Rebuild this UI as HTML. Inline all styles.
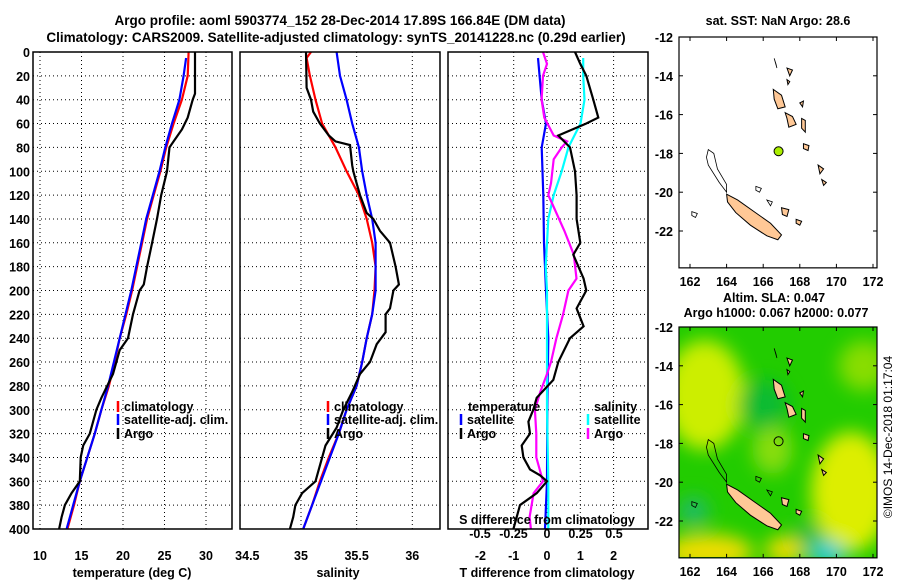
<!DOCTYPE html>
<html><head><meta charset="utf-8">
<style>
body{margin:0;background:#fff;}
svg{display:block;font-family:"Liberation Sans",sans-serif;font-weight:bold;}
</style></head>
<body>
<svg id="c" width="900" height="580" viewBox="0 0 900 580">
<defs>
<clipPath id="clipMap1"><rect x="679" y="37" width="198" height="229"/></clipPath>
<clipPath id="clipMap2"><rect x="679" y="327" width="198" height="230"/></clipPath>
<filter id="blur" x="-50%" y="-50%" width="200%" height="200%"><feGaussianBlur stdDeviation="9"/></filter>
</defs>
<text x="340" y="25" font-size="13.5" text-anchor="middle">Argo profile: aoml 5903774_152 28-Dec-2014 17.89S 166.84E (DM data)</text>
<text x="336" y="42" font-size="13.5" text-anchor="middle">Climatology: CARS2009. Satellite-adjusted climatology: synTS_20141228.nc (0.29d earlier)</text>
</svg>
<script>
// ---- data ----
const depthTicks=[0,20,40,60,80,100,120,140,160,180,200,220,240,260,280,300,320,340,360,380,400];
const tempTicks=[10,15,20,25,30];
const salTicks=[35,35.5,36];
const salTickLabels=["34.5","35","35.5","36"];
const tdiffTicks=[-2,-1,0,1,2];
const sdiffTicks=[-0.5,-0.25,0,0.25,0.5];
const sdiffTickLabels=["-0.5","-0.25","0","0.25","0.5"];

const argoTD=[0,35,40,55,65,75,80,100,120,140,160,180,195,200,220,240,250,270,290,300,320,330,340,360,370,380,390,400];
const argoT=[28.67,28.67,28.4,27.8,27.1,26.1,25.6,25.3,24.6,24.1,23.5,22.9,22.5,22.0,21.2,20.6,19.6,18.8,17.4,16.8,16.0,15.2,14.9,14.8,13.8,13.0,12.6,12.3];
const climD=[0,20,40,60,80,100,120,140,160,180,200,220,240,260,280,300,320,340,360,380,400];
const climT=[27.9,27.8,27.1,26.1,25.2,24.5,23.7,22.9,22.3,21.7,21.1,20.4,19.6,19.0,18.3,17.4,16.6,15.7,14.8,14.1,13.3];
const satD=[5,20,40,60,80,100,120,140,160,180,200,220,240,260,280,300,320,340,360,380,400];
const satT=[27.6,27.3,26.8,25.9,25.1,24.4,23.6,22.8,22.2,21.6,21.0,20.3,19.6,18.9,18.2,17.4,16.6,15.7,14.8,14.0,13.2];

const argoSD=[0,30,40,50,60,70,75,78,95,100,110,120,135,140,150,160,180,195,200,215,220,235,245,260,270,285,300,315,330,350,360,370,380,390,400];
const argoS=[35.045,35.05,35.09,35.11,35.17,35.25,35.31,35.44,35.46,35.47,35.5,35.53,35.59,35.65,35.71,35.8,35.85,35.88,35.83,35.8,35.76,35.76,35.68,35.62,35.53,35.46,35.38,35.32,35.22,35.16,35.13,35.01,34.95,34.93,34.9];
const climSD=[0,5,20,40,60,80,100,120,140,160,180,200,220,240,260,280,300,320,340,360,380,400];
const climS=[35.09,35.05,35.08,35.13,35.19,35.31,35.41,35.52,35.59,35.64,35.67,35.66,35.64,35.59,35.55,35.5,35.41,35.34,35.25,35.17,35.1,35.02];
const satSD=[0,20,40,60,80,100,120,140,160,180,200,220,240,260,280,300,320,340,360,380,400];
const satS=[35.32,35.35,35.41,35.46,35.52,35.55,35.59,35.64,35.67,35.67,35.67,35.64,35.59,35.55,35.5,35.41,35.34,35.26,35.18,35.1,35.02];

const dTD=[0,10,20,40,55,60,70,80,100,120,140,160,170,190,200,215,230,240,260,275,290,300,310,320,330,340,350,355,360,370,380,390,400];
const dTArgo=[0.84,1.0,1.18,1.39,1.54,1.18,0.34,0.69,0.84,0.89,0.89,1.0,0.79,1.1,1.18,0.89,1.1,0.69,0.34,0.19,-0.31,-0.41,-0.56,-0.51,-0.76,-0.71,-0.51,-0.21,0,-0.31,-0.81,-0.91,-1.01];
const dSD=[0,10,20,40,55,70,75,80,90,110,120,130,150,170,190,200,220,240,260,270,285,300,320,340,360,370,390,400];
const dSArgo=[-0.03,0.0,-0.03,-0.04,-0.02,0.05,0.15,0.11,0.05,0.03,0.01,0.05,0.13,0.2,0.22,0.16,0.12,0.07,0.03,0.0,-0.05,-0.09,-0.08,-0.08,-0.03,-0.1,-0.13,-0.12];
const dTsatD=[5,40,60,80,120,160,200,240,300,360,400];
const dTsat=[-0.27,-0.16,-0.03,-0.16,-0.11,-0.09,-0.03,0.04,0.01,0.0,-0.06];
const dSsatD=[5,20,40,60,80,100,120,140,160,180,200,260,300,360,400];
const dSsat=[0.27,0.27,0.28,0.25,0.16,0.11,0.05,0.01,0.0,-0.01,0.0,0.0,0.0,0.01,0.01];

const mapLonTicks=[162,164,166,168,170,172];
const mapLatTicks=[-12,-14,-16,-18,-20,-22];
const argoPos=[166.84,-17.89];

// ---- scales ----
const yD=d=>52+d*1.1925;
const xT=t=>40+(t-10)*8.3;
const xS=s=>301+(s-35)*111.3;
const xdT=t=>547+t*33.3;
const xdS=s=>547+s*134;
const mx=lon=>690+(lon-162)*18.3;
const my1=lat=>37+(-12-lat)*19.4;
const my2=lat=>327+(-12-lat)*19.4;

const svg=document.getElementById('c');
const NS='http://www.w3.org/2000/svg';
function mk(tag,attrs,parent){const e=document.createElementNS(NS,tag);for(const k in attrs)e.setAttribute(k,attrs[k]);(parent||svg).appendChild(e);return e;}
function txt(x,y,s,size,anchor,parent){const t=mk('text',{x:x,y:y,'font-size':size,'text-anchor':anchor||'middle'},parent);t.textContent=s;return t;}

function panel(x0,x1,name){
  const g=mk('g',{});
  
  
  depthTicks.forEach(d=>{mk('line',{x1:x0,x2:x1,y1:yD(d),y2:yD(d),stroke:'#000','stroke-width':1,'stroke-dasharray':'1,3'},g);});
  return g;
}
function frame(x0,x1,g){mk('rect',{x:x0,y:52,width:x1-x0,height:yD(400)-52,fill:'none',stroke:'#000','stroke-width':1.5},g);}
function line(xs,ds,fx,color,g,name){
  const pts=xs.map((v,i)=>fx(v).toFixed(1)+','+yD(ds[i]).toFixed(1)).join(' ');
  const p=mk('polyline',{points:pts,fill:'none',stroke:color,'stroke-width':2.2},g);
  
  
}

// panel 1
let g1=panel(33,232,'temperature-panel');
tempTicks.forEach(t=>{mk('line',{x1:xT(t),x2:xT(t),y1:52,y2:yD(400),stroke:'#000','stroke-dasharray':'1,3'},g1);txt(xT(t),560,String(t),12.5,'middle',g1);});
depthTicks.forEach(d=>{txt(30,yD(d)+5,String(d),12.5,'end',g1);});
line(climT,climD,xT,'#ff0000',g1,'temp-climatology-line');
line(satT,satD,xT,'#0000ff',g1,'temp-satellite-line');
line(argoT,argoTD,xT,'#000',g1,'temp-argo-line');
frame(33,232,g1);
txt(132,577,'temperature (deg C)',12.5,'middle',g1);
function legend(x,rows,g,name){
  const lg=mk('g',{},g);
  
  
  rows.forEach(r=>{mk('line',{x1:x,x2:x,y1:r[2]-10,y2:r[2]+1,stroke:r[1],'stroke-width':2.5},lg);txt(x+6,r[2],r[0],12.5,'start',lg);});
}
legend(118,[['climatology','#ff0000',411],['satellite-adj. clim.','#0000ff',424],['Argo','#000',438]],g1,'temp-legend');

// panel 2
let g2=panel(240,440,'salinity-panel');
salTicks.forEach(s=>{mk('line',{x1:xS(s),x2:xS(s),y1:52,y2:yD(400),stroke:'#000','stroke-dasharray':'1,3'},g2);});
[34.5,35,35.5,36].forEach((s,i)=>txt(xS(s)+(i==0?2:0),560,salTickLabels[i],12.5,'middle',g2));
line(climS,climSD,xS,'#ff0000',g2,'sal-climatology-line');
line(satS,satSD,xS,'#0000ff',g2,'sal-satellite-line');
line(argoS,argoSD,xS,'#000',g2,'sal-argo-line');
frame(240,440,g2);
txt(338,577,'salinity',12.5,'middle',g2);
legend(328,[['climatology','#ff0000',411],['satellite-adj. clim.','#0000ff',424],['Argo','#000',438]],g2,'sal-legend');

// panel 3
let g3=panel(448,648,'difference-panel');
tdiffTicks.forEach(t=>{mk('line',{x1:xdT(t),x2:xdT(t),y1:52,y2:yD(400),stroke:'#000','stroke-dasharray':'1,3'},g3);txt(xdT(t),560,String(t),12.5,'middle',g3);});
line(dTsat,dTsatD,xdT,'#0000ff',g3,'tdiff-satellite-line');
line(dSsat,dSsatD,xdS,'#00ffff',g3,'sdiff-satellite-line');
line(dSArgo,dSD,xdS,'#ff00ff',g3,'sdiff-argo-line');
line(dTArgo,dTD,xdT,'#000',g3,'tdiff-argo-line');
frame(448,648,g3);
txt(547,577,'T difference from climatology',12.5,'middle',g3);
txt(547,524,'S difference from climatology',12.5,'middle',g3);
sdiffTicks.forEach((s,i)=>txt(xdS(s),538,sdiffTickLabels[i],12.5,'middle',g3));
txt(468,411,'temperature',12.5,'start',g3);
legend(461,[['satellite','#0000ff',424],['Argo','#000',438]],g3,'tdiff-legend');
txt(594,411,'salinity',12.5,'start',g3);
legend(588,[['satellite','#00ffff',424],['Argo','#ff00ff',438]],g3,'sdiff-legend');

// ---- maps ----
const land=[
 [[164.0,-20.1],[164.6,-20.4],[165.5,-21.0],[166.4,-21.6],[167.0,-22.2],[166.8,-22.45],[166.2,-22.25],[165.3,-21.7],[164.5,-21.05],[164.05,-20.5]],
 [[166.55,-14.7],[167.0,-15.0],[167.2,-15.6],[166.8,-15.7],[166.6,-15.2]],
 [[167.2,-15.9],[167.6,-16.1],[167.8,-16.5],[167.4,-16.65],[167.3,-16.2]],
 [[168.1,-16.2],[168.3,-16.3],[168.3,-16.9],[168.1,-16.7]],
 [[168.0,-15.4],[168.2,-15.3],[168.15,-15.6]],
 [[168.2,-17.5],[168.5,-17.6],[168.45,-17.85],[168.2,-17.75]],
 [[169.0,-18.6],[169.3,-18.8],[169.1,-19.05]],
 [[169.2,-19.35],[169.45,-19.5],[169.3,-19.65]],
 [[167.0,-20.8],[167.4,-20.9],[167.3,-21.25],[167.05,-21.15]],
 [[167.8,-21.4],[168.1,-21.5],[168.0,-21.7],[167.8,-21.6]],
 [[167.3,-13.6],[167.6,-13.7],[167.45,-14.0]],
 [[167.3,-14.2],[167.45,-14.3],[167.35,-14.45]]
];
const reefs=[
 [[163.0,-17.8],[163.3,-18.0],[163.5,-18.8],[164.0,-19.6],[164.0,-20.0],[163.6,-19.5],[163.0,-18.6],[162.9,-18.2]],
 [[162.1,-21.0],[162.4,-21.1],[162.3,-21.3],[162.1,-21.2]],
 [[165.6,-19.7],[165.9,-19.8],[165.8,-20.0],[165.6,-19.9]],
 [[166.2,-20.4],[166.5,-20.5],[166.4,-20.7]],
 [[166.6,-13.1],[166.7,-13.4],[166.75,-13.6]]
];
function drawMap(my,clip,name,heat){
  const g=mk('g',{});
  
  
  const top=my(-12), bot=my(-23.9);
  mk('rect',{x:679,y:top,width:198,height:bot-top,fill:heat?'#22cc00':'#fff'},g);
  if(heat){
    const hg=mk('g',{'clip-path':'url(#'+clip+')',filter:'url(#blur)'},g);
    const blobs=[[162.8,-15.5,40,55,'#ccee00'],[170.8,-20.5,40,60,'#ddee00'],[163,-23.6,45,18,'#eedd00'],[167.2,-23.5,20,14,'#eedd00'],[171.5,-14,25,25,'#88dd00'],[166.5,-18.3,20,25,'#88dd11'],[169.5,-23.7,18,12,'#22ccdd'],[162.2,-21.5,15,15,'#22bb66'],[166,-16,25,25,'#11bb33'],[168.5,-22.7,15,12,'#22bb44']];
    blobs.forEach(b=>mk('ellipse',{cx:mx(b[0]),cy:my(b[1]),rx:b[2],ry:b[3],fill:b[4]},hg));
  }
  const lg=mk('g',{'clip-path':'url(#'+clip+')'},g);
  land.forEach(p=>mk('polygon',{points:p.map(q=>mx(q[0])+','+my(q[1])).join(' '),fill:'#ffc896',stroke:'#000','stroke-width':1},lg));
  reefs.forEach(p=>mk('polygon',{points:p.map(q=>mx(q[0])+','+my(q[1])).join(' '),fill:'none',stroke:'#000','stroke-width':0.8},lg));
  const dot=mk('circle',{cx:mx(argoPos[0]),cy:my(argoPos[1]),r:4.5,fill:heat?'none':'#aaee00',stroke:'#000','stroke-width':1},g);
  
  
  mk('rect',{x:679,y:top,width:198,height:bot-top,fill:'none',stroke:'#000','stroke-width':1.2},g);
  mapLatTicks.forEach(l=>{mk('line',{x1:679,x2:683,y1:my(l),y2:my(l),stroke:'#000'},g);mk('line',{x1:873,x2:877,y1:my(l),y2:my(l),stroke:'#000'},g);txt(673,my(l)+5,String(l),12.5,'end',g);});
  mapLonTicks.forEach(l=>{mk('line',{x1:mx(l),x2:mx(l),y1:top,y2:top+4,stroke:'#000'},g);mk('line',{x1:mx(l),x2:mx(l),y1:bot-4,y2:bot,stroke:'#000'},g);txt(mx(l),bot+18,String(l),12.5,'middle',g);});
  return g;
}
const m1=drawMap(my1,'clipMap1','sst-map',false);
txt(778,25,'sat. SST: NaN Argo: 28.6',12.5,'middle',m1);
const m2=drawMap(my2,'clipMap2','sla-map',true);
txt(774,302,'Altim. SLA: 0.047',12.5,'middle',m2);
txt(776,317,'Argo h1000: 0.067 h2000: 0.077',12.5,'middle',m2);
const cr=txt(0,0,'©IMOS 14-Dec-2018 01:17:04',12,'middle');
cr.setAttribute('transform','translate(892,437) rotate(-90)');
cr.setAttribute('font-weight','normal');


</script>
</body></html>
